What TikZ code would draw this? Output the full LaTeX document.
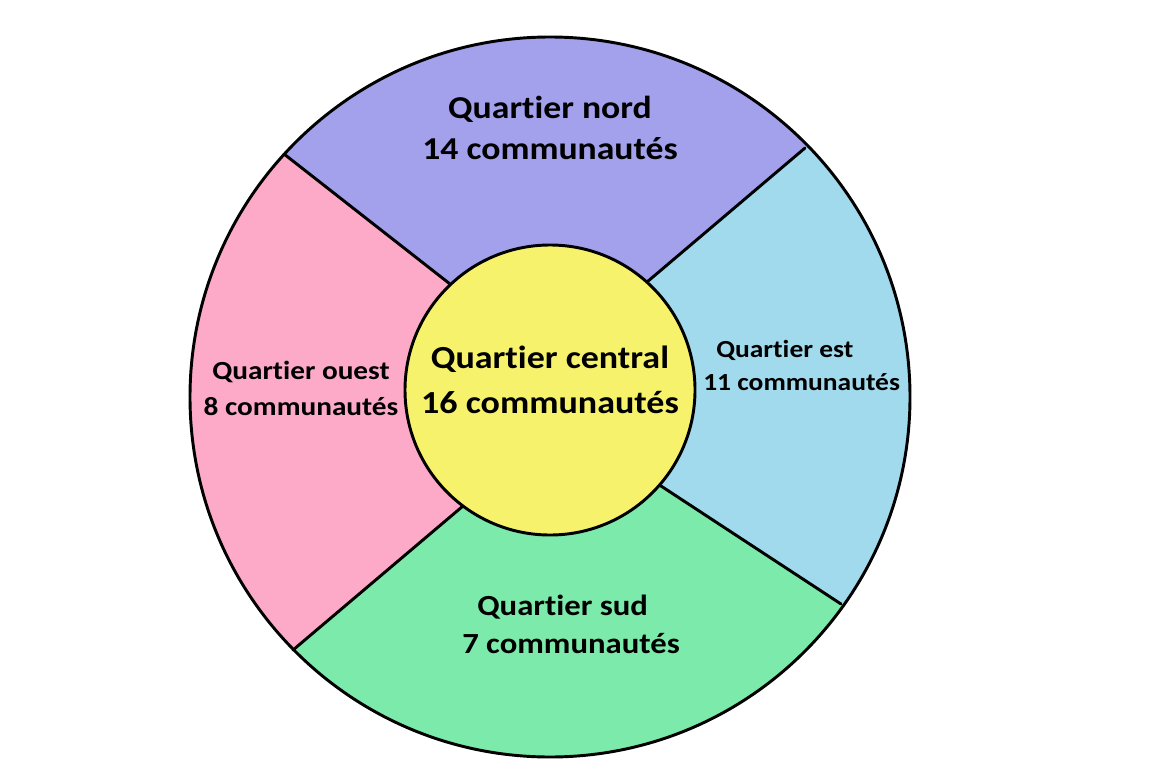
\documentclass[tikz,border=0pt]{standalone}
\usepackage{fontspec}
\setmainfont{Carlito}[Ligatures=NoCommon, FakeStretch=1.12]
\usetikzlibrary{calc}
\definecolor{nord}{HTML}{A3A0EC}
\definecolor{est}{HTML}{A0DAEC}
\definecolor{sud}{HTML}{7CEAAA}
\definecolor{ouest}{HTML}{FDAAC8}
\definecolor{centre}{HTML}{F7F26B}
\tikzset{
  trait/.style={line width=2.2pt, line cap=round},
  etiquette/.style={inner sep=0pt, anchor=base}
}
\begin{document}
\begin{tikzpicture}[x=0.75pt,y=-0.75pt]
    \useasboundingbox (0,0) rectangle (1155,770);
    \coordinate (o) at (550,397);
    \coordinate (c) at (550,390);
    % ends of the dividing lines
    \coordinate (i1) at (450,284);
    \coordinate (i2) at (647,282);
    \coordinate (i3) at (661,486);
    \coordinate (i4) at (463,506);
    \coordinate (e1) at (284,154);
    \coordinate (e2) at (805,148);
    \coordinate (e3) at (841,604);
    \coordinate (e4) at (293,650);
    \foreach \k in {1,...,4}
    \coordinate (f\k) at ($(i\k)!3!(e\k)$);
    \begin{scope}
    \clip (o) circle (270pt);
    \fill[nord] (i1) -- (f1) -- (f2) -- (i2) -- cycle;
    \fill[est] (i2) -- (f2) -- (f3) -- (i3) -- cycle;
    \fill[sud] (i3) -- (f3) -- (f4) -- (i4) -- cycle;
    \fill[ouest] (i4) -- (f4) -- (f1) -- (i1) -- cycle;
    \end{scope}
    \foreach \k in {1,...,4}
    \draw[trait] (i\k) -- (e\k);
    \draw[trait] (o) circle (270pt);
    \draw[trait, fill=centre] (c) circle (108.75pt);
    \node[etiquette, align=center, font=\bfseries\fontsize{23.9}{30}\selectfont] (qnord) at (550,159) {Quartier nord\\14 communautés};
    \node[etiquette, align=center, font=\bfseries\fontsize{24.1}{33.75}\selectfont] (qcentre) at (550,413) {Quartier central\\16 communautés};
    \node[etiquette, align=center, font=\bfseries\fontsize{19.6}{27}\selectfont] (qouest) at (301,415) {Quartier ouest\\8 communautés};
    \node[etiquette, anchor=base west, align=left, font=\bfseries\fontsize{18.4}{24.75}\selectfont] (qest) at (703,390) {\hspace{9.75pt}Quartier est\\11 communautés};
    \node[etiquette, anchor=base west, align=left, font=\bfseries\fontsize{21.9}{28.5}\selectfont] (qsud) at (462,653) {\hspace{11.25pt}Quartier sud\\7 communautés};
\end{tikzpicture}
\end{document}
